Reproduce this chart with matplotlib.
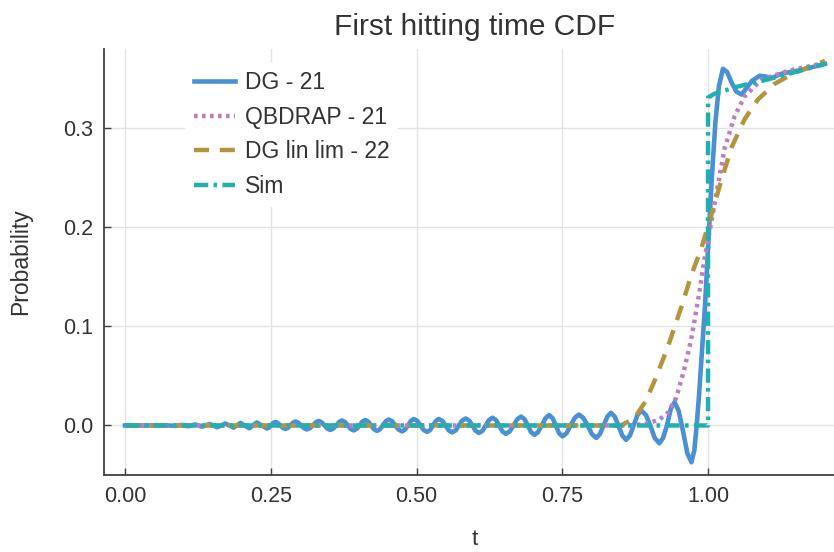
import matplotlib; matplotlib.use("Agg")
import matplotlib.pyplot as plt

# DG - 21 (oscillating): peaks, troughs, shoulders and zero crossings
dg_t = [0.000, 0.075, 0.086, 0.097, 0.108, 0.120, 0.132, 0.145, 0.158, 0.172, 0.186,
        0.198, 0.213, 0.226,
        0.243, 0.247, 0.2505, 0.254, 0.258, 0.262, 0.2665, 0.271,
        0.275, 0.279, 0.2835, 0.288, 0.292, 0.297, 0.302, 0.307,
        0.312, 0.317, 0.322, 0.327, 0.332, 0.337, 0.342, 0.347,
        0.352, 0.357, 0.362, 0.367, 0.372, 0.377, 0.382, 0.387,
        0.392, 0.397, 0.402, 0.407, 0.412, 0.417, 0.422, 0.427,
        0.432, 0.437, 0.442, 0.447, 0.452, 0.458, 0.4635, 0.469,
        0.475, 0.480, 0.485, 0.490, 0.495, 0.501, 0.5065, 0.512,
        0.518, 0.523, 0.528, 0.533, 0.538, 0.544, 0.5495, 0.555,
        0.561, 0.567, 0.5725, 0.578, 0.584, 0.590, 0.5955, 0.601,
        0.607, 0.613, 0.6185, 0.624, 0.630, 0.636, 0.6415, 0.647,
        0.653, 0.6595, 0.666, 0.6725, 0.679, 0.685, 0.6905, 0.696,
        0.702, 0.708, 0.7145, 0.721, 0.727, 0.733, 0.7385, 0.744,
        0.750, 0.757, 0.764, 0.771, 0.778, 0.7855, 0.793, 0.8005,
        0.808, 0.814, 0.8205, 0.827, 0.833, 0.8395, 0.846, 0.8525,
        0.859, 0.8655, 0.872, 0.8785, 0.885, 0.893, 0.9005, 0.908,
        0.916, 0.9225, 0.929, 0.9355, 0.942, 0.949, 0.956, 0.964,
        0.971, 0.976, 0.980, 0.984, 0.988, 0.994, 1.000, 1.006, 1.012,
        1.018, 1.025, 1.032, 1.040, 1.048, 1.057, 1.066, 1.075, 1.088, 1.100, 1.110,
        1.125, 1.160, 1.200]
dg_p = [0.0, 0.0, -0.0005, 0.0006, -0.0008, 0.0010, -0.0012, 0.0015, -0.0018, 0.0020, -0.0022,
        0.0025, -0.0028, 0.0030,
        -0.0030, -0.0021, 0.0, 0.0025, 0.0035, 0.0025, 0.0, -0.0025,
        -0.0035, -0.0025, 0.0, 0.0028, 0.0040, 0.0028, 0.0, -0.0028,
        -0.0040, -0.0028, 0.0, 0.0032, 0.0045, 0.0032, 0.0, -0.0032,
        -0.0045, -0.0032, 0.0, 0.0035, 0.0050, 0.0035, 0.0, -0.0035,
        -0.0050, -0.0035, 0.0, 0.0039, 0.0055, 0.0039, 0.0, -0.0039,
        -0.0055, -0.0039, 0.0, 0.0042, 0.0060, 0.0042, 0.0, -0.0042,
        -0.0060, -0.0042, 0.0, 0.0046, 0.0065, 0.0046, 0.0, -0.0046,
        -0.0065, -0.0046, 0.0, 0.0046, 0.0065, 0.0046, 0.0, -0.0049,
        -0.0070, -0.0049, 0.0, 0.0049, 0.0070, 0.0049, 0.0, -0.0053,
        -0.0075, -0.0053, 0.0, 0.0055, 0.0078, 0.0055, 0.0, -0.0060,
        -0.0085, -0.0060, 0.0, 0.0063, 0.0090, 0.0063, 0.0, -0.0067,
        -0.0095, -0.0067, 0.0, 0.0074, 0.0105, 0.0074, 0.0, -0.0077,
        -0.0110, -0.0077, 0.0, 0.0077, 0.0110, 0.0077, 0.0, -0.0088,
        -0.0125, -0.0088, 0.0, 0.0090, 0.0128, 0.0090, 0.0, -0.0102,
        -0.0145, -0.0102, 0.0, 0.0106, 0.0152, 0.0106, 0.0, -0.0126,
        -0.0180, -0.0126, 0.0, 0.0165, 0.0236, 0.0150, -0.004, -0.028,
        -0.0372, -0.025, 0.000, 0.030, 0.065, 0.118, 0.185, 0.250, 0.305,
        0.342, 0.360, 0.357, 0.346, 0.337, 0.334, 0.341, 0.348, 0.353, 0.352, 0.351,
        0.355, 0.359, 0.365]

# QBDRAP - 21
qb_t = [0.000, 0.870, 0.896, 0.916, 0.931, 0.945, 0.958, 0.970, 0.982, 0.994, 1.005,
        1.017, 1.028, 1.045, 1.062, 1.091, 1.137, 1.200]
qb_p = [0.0, 0.0, 0.002, 0.006, 0.013, 0.028, 0.055, 0.085, 0.125, 0.170, 0.205,
        0.244, 0.280, 0.312, 0.332, 0.349, 0.358, 0.366]

# DG lin lim - 22
ll_t = [0.000, 0.850, 0.873, 0.893, 0.910, 0.931, 0.954, 0.971, 0.988, 1.005, 1.022,
        1.040, 1.062, 1.085, 1.114, 1.148, 1.200]
ll_p = [0.0, 0.0, 0.007, 0.025, 0.048, 0.080, 0.120, 0.152, 0.179, 0.212, 0.247,
        0.281, 0.309, 0.329, 0.345, 0.356, 0.368]

# Sim
sim_t = [0.000, 0.9995, 0.9995, 1.011, 1.050, 1.100, 1.125, 1.150, 1.200]
sim_p = [0.0, 0.0, 0.331, 0.335, 0.342, 0.349, 0.353, 0.357, 0.365]

C_DG, C_QB, C_LL, C_SIM = "#4a90d4", "#bf7cc4", "#b4953e", "#22afb0"
AX = "#404040"

plt.rcParams["font.family"] = ["Liberation Sans", "DejaVu Sans"]
fig = plt.figure(figsize=(8.34, 5.52), dpi=100)
ax = fig.add_axes([104 / 834, (552 - 475) / 552, (846 - 104) / 834, (475 - 49) / 552])

ax.plot(dg_t, dg_p, color=C_DG, lw=3.3, label="DG - 21", zorder=3, solid_joinstyle="round")
ax.plot(qb_t, qb_p, color=C_QB, lw=3.2, ls=(0, (0.8, 1.0)), label="QBDRAP - 21", zorder=4)
ax.plot(ll_t, ll_p, color=C_LL, lw=3.2, ls=(0, (3.4, 2.4)), label="DG lin lim - 22", zorder=4)
ax.plot(sim_t, sim_p, color=C_SIM, lw=3.2, ls=(0, (3.2, 1.2, 0.8, 1.2)), label="Sim", zorder=5)

ax.set_xlim(-0.036, 1.236)
ax.set_ylim(-0.050, 0.380)
ax.set_xticks([0.0, 0.25, 0.5, 0.75, 1.0])
ax.set_xticklabels(["0.00", "0.25", "0.50", "0.75", "1.00"])
ax.set_yticks([0.0, 0.1, 0.2, 0.3])
ax.set_yticklabels(["0.0", "0.1", "0.2", "0.3"])
ax.grid(True, color="#e3e3e3", lw=1.0)
ax.set_axisbelow(True)
for s in ["top", "right"]:
    ax.spines[s].set_visible(False)
for s in ["left", "bottom"]:
    ax.spines[s].set_color(AX); ax.spines[s].set_linewidth(1.3)
ax.tick_params(direction="in", length=5, width=1.0, colors=AX, labelsize=15.5, labelcolor="#333333", pad=8)

ax.set_title("First hitting time CDF", fontsize=21.5, color="#333333", pad=10)
ax.set_xlabel("t", fontsize=16, color="#333333", labelpad=16)
ax.set_ylabel("Probability", fontsize=16.5, color="#333333", labelpad=22)

leg = ax.legend(loc="upper left", bbox_to_anchor=(0.1, 0.985), fontsize=16.5, frameon=True,
                framealpha=1.0, edgecolor="none", handlelength=1.8, handletextpad=0.4,
                labelspacing=0.5, borderaxespad=0.3)
for t in leg.get_texts():
    t.set_color("#333333")

fig.savefig("out.png", dpi=100)
